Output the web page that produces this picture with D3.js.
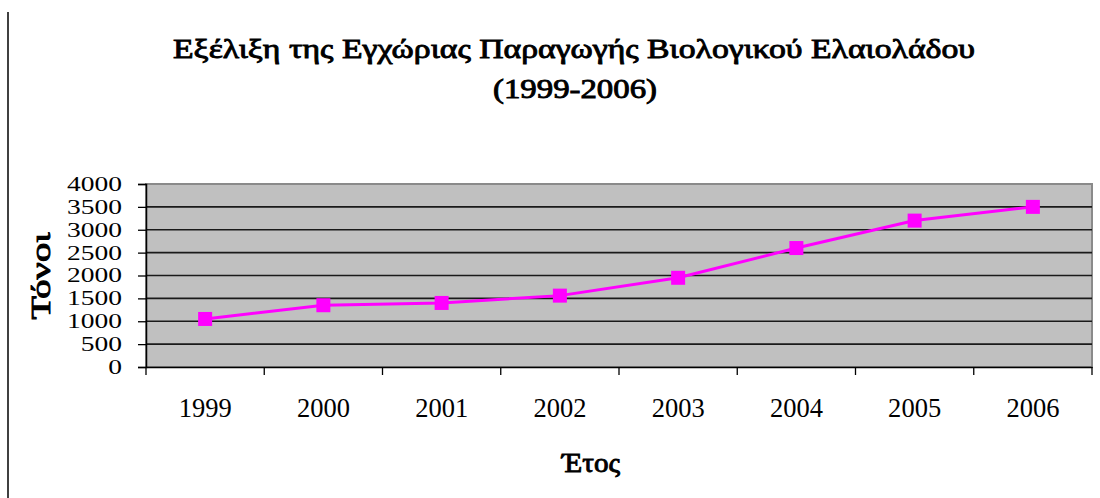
<!DOCTYPE html>
<html>
<head>
<meta charset="utf-8">
<script src="https://cdn.jsdelivr.net/npm/d3@7"></script>
<style>
  body { margin: 0; background: #fff; }
  svg { display: block; }
  text { font-family: "Liberation Serif", "Times New Roman", serif; fill: #000; }
  .heavy { stroke: #000; stroke-width: 0.9; }
</style>
</head>
<body>
<div id="chart"></div>
<script>
const years = ["1999", "2000", "2001", "2002", "2003", "2004", "2005", "2006"];
const tonnes = [1050, 1350, 1400, 1560, 1950, 2600, 3200, 3500];
const yTicks = [0, 500, 1000, 1500, 2000, 2500, 3000, 3500, 4000];
const titleLines = ["Εξέλιξη της Εγχώριας Παραγωγής Βιολογικού Ελαιολάδου", "(1999-2006)"];
const yTitle = "Τόνοι";
const xTitle = "Έτος";

const width = 1100;
const height = 498;
const plot = { left: 146, right: 1092, top: 184, bottom: 367 };

const svg = d3.select("#chart")
	.append("svg")
	.attr("width", width)
	.attr("height", height);

// frame edge on the left
svg.append("line")
	.attr("x1", 8).attr("x2", 8)
	.attr("y1", 12).attr("y2", height)
	.attr("stroke", "#000")
	.attr("stroke-width", 1.5);

const x = d3.scaleBand()
	.domain(years)
	.range([plot.left, plot.right]);

const y = d3.scaleLinear()
	.domain([0, 4000])
	.range([plot.bottom, plot.top]);

// plot background
svg.append("rect")
	.attr("x", plot.left)
	.attr("y", plot.top)
	.attr("width", plot.right - plot.left)
	.attr("height", plot.bottom - plot.top)
	.attr("fill", "#c0c0c0")
	.attr("stroke", "#8a8a8a")
	.attr("stroke-width", 2);

// grid lines
svg.selectAll(".grid").data(yTicks.filter((d) => d > 0 && d < 4000)).enter()
	.append("line")
	.attr("class", "grid")
	.attr("x1", plot.left).attr("x2", plot.right)
	.attr("y1", (d) => y(d)).attr("y2", (d) => y(d))
	.attr("stroke", "#1a1a1a")
	.attr("stroke-width", 1.6);

// y axis
const yAxis = svg.append("g")
	.attr("transform", `translate(${plot.left}, 0)`)
	.call(d3.axisLeft(y).tickValues(yTicks).tickSize(8).tickPadding(16).tickFormat(d3.format("d")));
yAxis.select(".domain").attr("stroke", "#000").attr("stroke-width", 1.5);
yAxis.selectAll(".tick line").attr("stroke", "#000").attr("stroke-width", 1.3);
yAxis.selectAll("text")
	.attr("font-family", "Liberation Serif, serif")
	.attr("font-size", 20)
	.attr("fill", "#000")
	.attr("textLength", (d) => String(d).length * 13.75)
	.attr("lengthAdjust", "spacingAndGlyphs");

// x axis
const xAxis = svg.append("g")
	.attr("transform", `translate(0, ${plot.bottom})`)
	.call(d3.axisBottom(x).tickSize(0).tickPadding(0));
xAxis.select(".domain").attr("stroke", "#000").attr("stroke-width", 1.5);
xAxis.selectAll("text")
	.attr("font-family", "Liberation Serif, serif")
	.attr("font-size", 28)
	.attr("fill", "#000")
	.attr("dy", null)
	.attr("y", 50)
	.attr("textLength", 53)
	.attr("lengthAdjust", "spacingAndGlyphs");

// x ticks sit on band boundaries
svg.selectAll(".xtick").data(years.concat(["end"])).enter()
	.append("line")
	.attr("class", "xtick")
	.attr("x1", (d, i) => plot.left + i * x.bandwidth())
	.attr("x2", (d, i) => plot.left + i * x.bandwidth())
	.attr("y1", plot.bottom)
	.attr("y2", plot.bottom + 8)
	.attr("stroke", "#000")
	.attr("stroke-width", 1.3);

// series line
const line = d3.line()
	.x((d, i) => x(years[i]) + x.bandwidth() / 2)
	.y((d) => y(d));

svg.append("path")
	.datum(tonnes)
	.attr("fill", "none")
	.attr("stroke", "#ff00ff")
	.attr("stroke-width", 3)
	.attr("d", line);

// square markers
const ms = 14;
svg.selectAll(".marker").data(tonnes).enter()
	.append("rect")
	.attr("class", "marker")
	.attr("x", (d, i) => x(years[i]) + x.bandwidth() / 2 - ms / 2)
	.attr("y", (d) => y(d) - ms / 2)
	.attr("width", ms)
	.attr("height", ms)
	.attr("fill", "#ff00ff");

// title (faux bold, the bold serif face is not always there)
svg.append("text")
	.attr("class", "heavy")
	.attr("x", 574).attr("y", 58)
	.attr("text-anchor", "middle")
	.attr("font-size", 28)
	.attr("textLength", 802)
	.attr("lengthAdjust", "spacingAndGlyphs")
	.text(titleLines[0]);

svg.append("text")
	.attr("class", "heavy")
	.attr("x", 575).attr("y", 98)
	.attr("text-anchor", "middle")
	.attr("font-size", 28)
	.attr("textLength", 164)
	.attr("lengthAdjust", "spacingAndGlyphs")
	.text(titleLines[1]);

// axis titles
svg.append("text")
	.attr("class", "heavy")
	.attr("transform", "translate(50, 276) rotate(-90)")
	.attr("text-anchor", "middle")
	.attr("font-size", 28)
	.attr("textLength", 87)
	.attr("lengthAdjust", "spacingAndGlyphs")
	.text(yTitle);

svg.append("text")
	.attr("class", "heavy")
	.attr("x", 591).attr("y", 472)
	.attr("text-anchor", "middle")
	.attr("font-size", 27)
	.attr("textLength", 58)
	.attr("lengthAdjust", "spacingAndGlyphs")
	.text(xTitle);
</script>
</body>
</html>
